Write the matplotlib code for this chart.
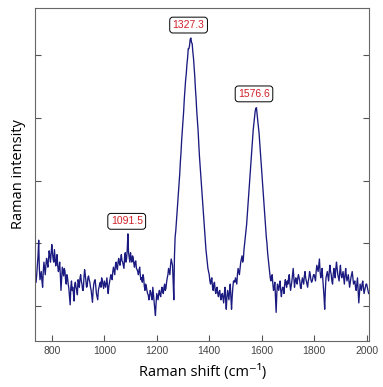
import numpy as np
import matplotlib
matplotlib.use("Agg")
import matplotlib.pyplot as plt

# Raman shift grid (cm^-1), 5 cm^-1 step, plus the half-step points in between
shift = np.arange(740, 2010, 5)
shift_mid = shift + 2.5

# intensities, 100 cm^-1 per row
intensity = [
    1380, 1650, 2050, 1420, 1550, 1300, 1700, 1500, 1760, 1620, 1880, 1700,
    1980, 1750, 1900, 1640, 1820, 1550, 1700, 1250, 1620, 1480, 1560, 1350, 1450, 1280, 1020, 1400, 1300, 1080, 1380, 1250,
    1420, 1300, 1500, 1350, 1250, 1580, 1400, 1320, 1480, 1380, 1250, 1060, 1350, 1420, 1200, 1100, 1300, 1380, 1450, 1340,
    1400, 1300, 1450, 1200, 1380, 1500, 1420, 1620, 1500, 1700, 1580, 1760, 1650, 1820, 1700, 1600, 1850, 1750, 2150, 1780,
    1850, 1700, 1780, 1620, 1720, 1580, 1500, 1620, 1420, 1380, 1450, 1250, 1320, 1200, 1100, 1250, 1150, 1300, 1050, 850,
    1200, 1100, 1250, 1150, 1300, 1200, 1350, 1280, 1450, 1600, 1500, 1750, 1650, 1100, 2100, 2350, 2650, 2950, 3300, 3650,
    3950, 4300, 4600, 4850, 5100, 5150, 5270, 5180, 4950, 4650, 4300, 3950, 3600, 3250, 2950, 2650, 2350, 2050, 1800, 1600,
    1500, 1350, 1450, 1250, 1380, 1200, 1300, 1150, 1250, 1100, 1200, 1050, 1300, 950, 1250, 1100, 1350, 950, 1300, 1400,
    1450, 1350, 1600, 1500, 1700, 1800, 1750, 2000, 2200, 2450, 2750, 3050, 3350, 3650, 3900, 4100, 4160, 3950, 3750, 3450,
    3150, 2850, 2550, 2250, 2000, 1750, 1550, 1400, 1500, 1250, 1380, 900, 1350, 1250, 1400, 1150, 1300, 1200, 1420, 1300,
    1350, 1500, 1250, 1400, 1600, 1300, 1450, 1350, 1500, 1400, 1280, 1450, 1350, 1550, 1400, 1300, 1450, 1500, 1380, 1450,
    1500, 1400, 1650, 1550, 1750, 1450, 1600, 1300, 950, 1450, 1550, 1400, 1650, 1500, 1350, 1600, 1450, 1700, 1500, 1400,
    1650, 1450, 1550, 1350, 1600, 1400, 1500, 1300, 1450, 1550, 1350, 1400, 1250, 1450, 1050, 1350, 1250, 1400, 1200, 1300,
    1350, 1250,
]

intensity_mid = [
    1500, 1800, 1600, 1480, 1400, 1550, 1600, 1650, 1700, 1750, 1800, 1850,
    1850, 1700, 1780, 1720, 1650, 1600, 1500, 1450, 1550, 1600, 1420, 1500, 1350, 1150, 1300, 1250, 1200, 1350, 1300, 1180,
    1380, 1450, 1400, 1250, 1450, 1500, 1300, 1450, 1420, 1300, 1150, 1250, 1400, 1320, 1150, 1250, 1350, 1300, 1400, 1280,
    1350, 1380, 1300, 1320, 1450, 1480, 1550, 1560, 1650, 1620, 1700, 1680, 1750, 1720, 1650, 1780, 1700, 1900, 1850, 1700,
    1750, 1800, 1680, 1700, 1600, 1550, 1580, 1480, 1450, 1500, 1320, 1350, 1250, 1180, 1150, 1220, 1100, 1180, 950, 1050,
    1150, 1200, 1180, 1250, 1220, 1300, 1250, 1380, 1500, 1550, 1650, 1700, 1400, 1800, 2200, 2500, 2800, 3100, 3450, 3800,
    4100, 4450, 4700, 4950, 5100, 5250, 5200, 5050, 4800, 4450, 4100, 3800, 3400, 3100, 2800, 2500, 2200, 1900, 1700, 1550,
    1400, 1420, 1300, 1350, 1250, 1280, 1200, 1220, 1150, 1180, 1120, 1200, 1100, 1150, 1180, 1250, 1150, 1150, 1400, 1380,
    1400, 1500, 1550, 1600, 1750, 1700, 1900, 2100, 2300, 2600, 2900, 3200, 3500, 3800, 4000, 4150, 4050, 3850, 3600, 3300,
    3000, 2700, 2400, 2100, 1850, 1650, 1450, 1480, 1350, 1300, 1150, 1200, 1300, 1350, 1250, 1250, 1280, 1350, 1350, 1400,
    1450, 1350, 1320, 1500, 1450, 1400, 1380, 1450, 1450, 1300, 1380, 1400, 1480, 1450, 1350, 1400, 1550, 1420, 1400, 1500,
    1450, 1550, 1600, 1650, 1550, 1500, 1450, 1150, 1250, 1500, 1480, 1550, 1550, 1400, 1500, 1550, 1600, 1600, 1450, 1550,
    1500, 1500, 1450, 1500, 1480, 1450, 1400, 1380, 1500, 1450, 1380, 1300, 1350, 1250, 1200, 1300, 1350, 1300, 1250, 1350,
    1300, 1200,
]

peak_pos = [1091.5, 1327.3, 1576.6]
peak_labels = ["1091.5", "1327.3", "1576.6"]
label_y = [2350, 5476, 4380]

# merge both sample sets into one spectrum
x = np.empty(len(shift) * 2)
y = np.empty(len(shift) * 2)
x[0::2], x[1::2] = shift, shift_mid
y[0::2], y[1::2] = intensity, intensity_mid

fig = plt.figure(figsize=(3.83, 3.87), dpi=100)
ax = fig.add_axes([0.0914, 0.1189, 0.8728, 0.8601])

ax.plot(x, y, color="#1a1a80", lw=0.95)

for xp, txt, yp in zip(peak_pos, peak_labels, label_y):
    ax.text(xp - 6, yp, txt, color="#d0202a", fontsize=7.5, family="Liberation Sans",
            ha="center", va="center",
            bbox=dict(boxstyle="round,pad=0.28,rounding_size=0.3", fc="white", ec="black", lw=0.7))

ax.set_xlim(736, 2010)
ax.set_ylim(444, 5746)
ax.set_xticks([800, 1000, 1200, 1400, 1600, 1800, 2000])
ax.set_yticks([1000, 2000, 3000, 4000, 5000])
ax.set_yticklabels([])
ax.tick_params(axis="x", direction="in", length=4, labelsize=7.5, labelcolor="#444444", color="#555555")
ax.tick_params(axis="y", direction="in", length=4, left=True, right=True, color="#555555")
for lab in ax.get_xticklabels():
    lab.set_family("Liberation Sans")
for s in ax.spines.values():
    s.set_color("#666666")
    s.set_linewidth(0.8)

ax.set_xlabel("Raman shift (cm⁻¹)", fontsize=10.5, family=["Open Sans", "DejaVu Sans"], labelpad=6)
ax.set_ylabel("Raman intensity", fontsize=10.5, family="Open Sans", labelpad=3)

fig.savefig("out.png", dpi=100)
